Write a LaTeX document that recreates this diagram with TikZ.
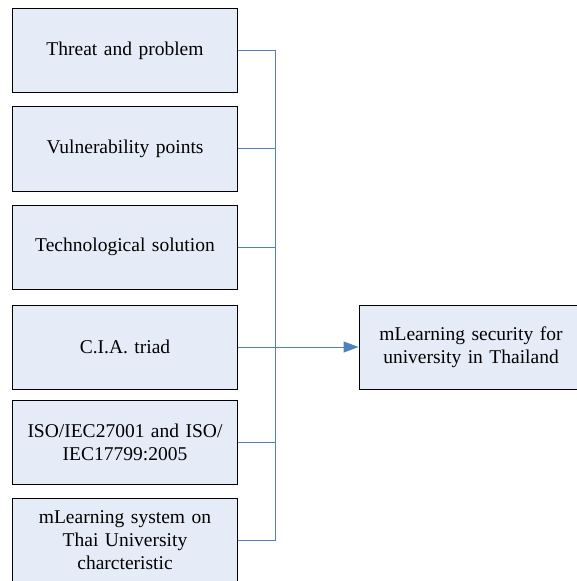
\documentclass[tikz,border=0pt]{standalone}
\usepackage{fontspec}
\setmainfont{Liberation Serif}
\usetikzlibrary{arrows.meta}
\definecolor{boxfill}{RGB}{230,236,247}
\definecolor{linkblue}{RGB}{79,129,189}
\tikzset{
  box/.style={draw=black, fill=boxfill, line width=1bp, minimum width=224bp, minimum height=84bp,
    inner sep=2bp, align=center, text width=210bp,
    font=\fontsize{19.5bp}{23.3bp}\selectfont},
  link/.style={draw=linkblue, line width=1bp},
}
\begin{document}
\begin{tikzpicture}[x=1bp,y=-1bp]
\useasboundingbox (0,0) rectangle (577,581);
\clip (0,0) rectangle (577,581);
\node[box] (b1) at (125,51) {Threat and problem};
\node[box] (b2) at (125,149) {Vulnerability points};
\node[box] (b3) at (125,247) {Technological solution};
\node[box] (b4) at (125,347) {C.I.A. triad};
\node[box] (b5) at (125,442.5) {ISO/IEC27001 and ISO/\\IEC17799:2005};
\node[box] (b6) at (125,540) {mLearning system on\\Thai University\\charcteristic};
\node[box] (r) at (471,347) {mLearning security for\\university in Thailand};
\coordinate (j1) at (275.5,51);
\coordinate (j2) at (275.5,149);
\coordinate (j3) at (275.5,247);
\coordinate (j5) at (275.5,442.5);
\coordinate (j6) at (275.5,540);
\draw[link] (b1.east) -- (j1) -- (j6) -- (b6.east);
\draw[link] (b2.east) -- (j2);
\draw[link] (b3.east) -- (j3);
\draw[link] (b5.east) -- (j5);
\draw[link, -{Triangle[length=15bp,width=11bp]}] (b4.east) -- (r.west);
\end{tikzpicture}
\end{document}
